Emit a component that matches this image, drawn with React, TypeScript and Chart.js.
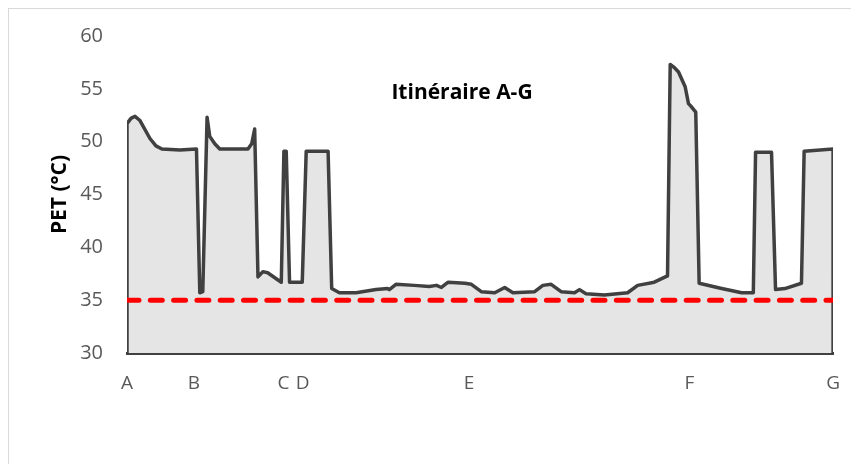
import { useEffect, useRef } from 'react';
import { Chart, registerables } from 'chart.js';

Chart.register(...registerables);

// Route position (% of itinerary length) and PET values (°C)
const distance = [
  0, 0, 0.56, 1.13, 1.84, 3.25, 4.1, 4.94, 7.49, 9.84,
  10.31, 10.73, 11.34, 11.72, 12.43, 13.14, 17.13, 17.66, 18.08, 18.55,
  19.25, 19.92, 21.85, 22.22, 22.55, 23.02, 24.82, 25.38, 28.48, 28.99,
  30.08, 32.44, 35.27, 36.91, 37.15, 38.09, 40.68, 42.8, 43.83, 44.53,
  45.48, 47.84, 48.77, 50.18, 52.08, 53.49, 54.66, 57.73, 58.9, 60.07,
  61.48, 63.38, 64.08, 65.01, 67.61, 70.9, 72.32, 74.67, 76.55, 76.93,
  77.54, 78.11, 79.05, 79.52, 79.94, 80.55, 81.03, 84.22, 87.05, 88.7,
  89.02, 91.28, 91.85, 93.18, 95.52, 95.9, 100, 100,
];
const pet = [
  30, 51.7, 52.2, 52.4, 52.0, 50.3, 49.6, 49.3, 49.2, 49.3,
  35.7, 35.8, 52.3, 50.5, 49.8, 49.3, 49.3, 49.8, 51.2, 37.2,
  37.7, 37.6, 36.7, 49.1, 49.1, 36.7, 36.7, 49.1, 49.1, 36.1,
  35.7, 35.7, 36.0, 36.1, 36.0, 36.5, 36.4, 36.3, 36.4, 36.2,
  36.7, 36.6, 36.5, 35.8, 35.7, 36.2, 35.7, 35.8, 36.4, 36.5,
  35.8, 35.7, 36.0, 35.6, 35.5, 35.7, 36.4, 36.7, 37.3, 57.3,
  57.0, 56.6, 55.2, 53.6, 53.3, 52.8, 36.6, 36.1, 35.7, 35.7,
  49.0, 49.0, 36.0, 36.1, 36.6, 49.1, 49.3, 30,
];
const stopPositions = [0, 9.46, 22.17, 24.86, 48.45, 79.66, 100];
const stopLabels = ['A', 'B', 'C', 'D', 'E', 'F', 'G'];
const threshold = 35;
const yMin = 30;
const yMax = 60;
const yStep = 5;
const chartTitle = 'Itinéraire A-G';
const yTitle = 'PET (°C)';

const FONT = "'Open Sans', 'DejaVu Sans', sans-serif";

export default function App() {
  const ref = useRef<HTMLCanvasElement | null>(null);

  useEffect(() => {
    document.documentElement.style.overflow = 'hidden';
    document.body.style.overflow = 'hidden';
    const canvas = ref.current;
    if (!canvas) return;

    const seriesData = distance.map((d, i) => ({ x: d, y: pet[i] }));
    const thresholdData = [
      { x: stopPositions[0], y: threshold },
      { x: stopPositions[stopPositions.length - 1], y: threshold },
    ];

    const titlePlugin = {
      id: 'innerTitle',
      afterDraw(chart: any) {
        const ctx = chart.ctx;
        ctx.save();
        ctx.font = `bold 21px ${FONT}`;
        ctx.fillStyle = '#000000';
        ctx.textAlign = 'center';
        ctx.textBaseline = 'middle';
        ctx.fillText(chartTitle, 453, 84);
        ctx.restore();
      },
    };

    const chart = new Chart(canvas, {
      type: 'line',
      data: {
        datasets: [
          {
            label: 'Seuil',
            data: thresholdData,
            borderColor: '#FF0000',
            borderWidth: 5,
            borderDash: [12, 11.3],
            borderCapStyle: 'round',
            pointRadius: 0,
            fill: false,
          },
          {
            label: 'PET',
            data: seriesData,
            borderColor: '#404040',
            borderWidth: 3.5,
            borderJoinStyle: 'round',
            backgroundColor: '#e5e5e5',
            fill: 'start',
            pointRadius: 0,
            tension: 0,
          },
        ],
      },
      options: {
        animation: false,
        responsive: false,
        maintainAspectRatio: false,
        layout: { padding: { left: 0, right: 24, top: 27, bottom: 51 } },
        plugins: {
          legend: { display: false },
          tooltip: { enabled: false },
          title: { display: false },
        },
        scales: {
          x: {
            type: 'linear',
            min: stopPositions[0],
            max: stopPositions[stopPositions.length - 1],
            grid: { display: false, drawTicks: false },
            border: { display: true, color: '#404040', width: 3 },
            afterBuildTicks: (scale: any) => {
              scale.ticks = stopPositions.map((v) => ({ value: v }));
            },
            afterFit: (scale: any) => {
              scale.height = 60;
            },
            ticks: {
              autoSkip: false,
              maxRotation: 0,
              padding: 19,
              color: '#595959',
              font: { family: FONT, size: 19 },
              callback: (_v: any, i: number) => stopLabels[i],
            },
          },
          y: {
            min: yMin,
            max: yMax,
            grid: { display: false, drawTicks: true, tickLength: 24 },
            border: { display: false },
            afterFit: (scale: any) => {
              scale.width = 118;
            },
            ticks: {
              stepSize: yStep,
              padding: 0,
              color: '#595959',
              font: { family: FONT, size: 20 },
            },
            title: {
              display: true,
              text: yTitle,
              color: '#000000',
              font: { family: FONT, size: 21, weight: 'bold' },
              padding: { top: 38, bottom: 0 },
            },
          },
        },
      },
      plugins: [titlePlugin],
    } as any);

    return () => chart.destroy();
  }, []);

  return (
    <div
      style={{
        width: 851,
        height: 456,
        borderTop: '1px solid #d9d9d9',
        borderLeft: '1px solid #d9d9d9',
        boxSizing: 'border-box',
        background: '#ffffff',
      }}
    >
      <canvas ref={ref} width={850} height={455} style={{ display: 'block' }} />
    </div>
  );
}
